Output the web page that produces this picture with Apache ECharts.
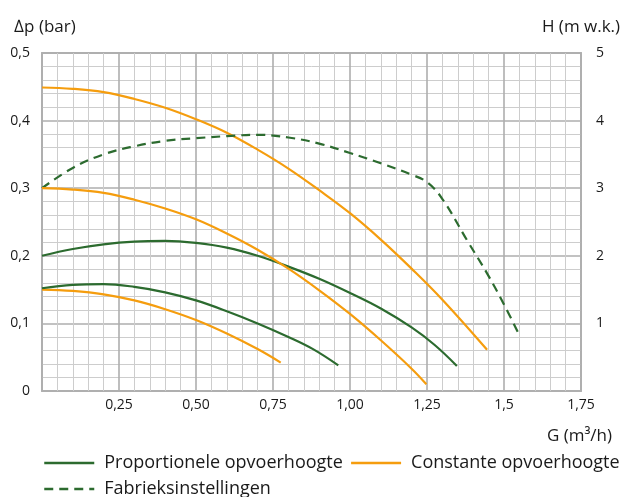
<!DOCTYPE html>
<html>
<head>
<meta charset="utf-8">
<script src="https://cdn.jsdelivr.net/npm/echarts@6/dist/echarts.min.js"></script>
<style>html,body{margin:0;padding:0;background:#fff}#c{width:630px;height:497px}</style>
</head>
<body>
<div id="c"></div>
<script>
// G (m3/h), delta p (bar)
const propHigh = [[0,0.200],[0.1,0.210],[0.2,0.217],[0.3,0.221],[0.4,0.222],[0.5,0.219],[0.6,0.212],[0.7,0.200],[0.8,0.184],[0.9,0.166],[1.0,0.145],[1.1,0.122],[1.2,0.094],[1.275,0.068],[1.347,0.037]];
const propLow = [[0,0.152],[0.1,0.157],[0.2,0.158],[0.3,0.154],[0.4,0.146],[0.5,0.134],[0.6,0.118],[0.7,0.100],[0.8,0.080],[0.88,0.062],[0.962,0.038]];
const constHigh = [[0,0.449],[0.1,0.447],[0.2,0.442],[0.3,0.432],[0.4,0.419],[0.5,0.402],[0.6,0.382],[0.7,0.357],[0.8,0.329],[0.9,0.297],[1.0,0.263],[1.1,0.224],[1.2,0.181],[1.3,0.135],[1.445,0.061]];
const constMid = [[0,0.300],[0.1,0.298],[0.2,0.293],[0.3,0.283],[0.4,0.270],[0.5,0.254],[0.6,0.233],[0.7,0.209],[0.8,0.181],[0.9,0.149],[1.0,0.114],[1.1,0.075],[1.2,0.033],[1.248,0.010]];
const constLow = [[0,0.150],[0.1,0.148],[0.2,0.143],[0.3,0.134],[0.4,0.121],[0.5,0.105],[0.6,0.085],[0.7,0.062],[0.775,0.042]];
const factory = [[0,0.300],[0.1,0.330],[0.2,0.350],[0.3,0.362],[0.4,0.370],[0.5,0.374],[0.6,0.377],[0.7,0.379],[0.8,0.375],[0.9,0.366],[1.0,0.352],[1.1,0.337],[1.2,0.320],[1.25,0.309],[1.3,0.284],[1.38,0.223],[1.445,0.174],[1.5,0.128],[1.545,0.087]];

const xTickLabels = ['', '0,25', '0,50', '0,75', '1,00', '1,25', '1,5', '1,75'];
const yTickLabels = ['0', '0,1', '0,2', '0,3', '0,4', '0,5'];
const hTickLabels = ['', '1', '2', '3', '4', '5'];

const names = ['Proportionele opvoerhoogte', 'Constante opvoerhoogte', 'Fabrieksinstellingen'];
const GREEN = '#2c6b2f', ORANGE = '#f59d0e';
const FONT = 'Open Sans';

function line(name, data, color, dashed) {
  return {
    type: 'line', name: name, data: data, smooth: 0.4, symbol: 'none', showSymbol: false,
    xAxisIndex: 0, yAxisIndex: 0, silent: true,
    lineStyle: { color: color, width: 2.2, type: dashed ? [9, 6] : 'solid' },
    itemStyle: { color: color }
  };
}

const legendCommon = {
  orient: 'horizontal', itemWidth: 50, itemHeight: 14, selectedMode: false,
  itemStyle: { opacity: 0 },
  lineStyle: { width: 2.5 },
  textStyle: { fontSize: 18, fontFamily: FONT, color: '#1a1a1a', padding: [0, 0, 0, 5] }
};

const chart = echarts.init(document.getElementById('c'), null, { renderer: 'canvas' });
chart.setOption({
  animation: false,
  textStyle: { fontFamily: FONT, color: '#1a1a1a' },
  grid: { left: 42, right: 49, top: 53, bottom: 106, show: true, borderColor: '#b4b4b4', borderWidth: 2, backgroundColor: 'transparent' },
  xAxis: {
    type: 'value', min: 0, max: 1.75, interval: 0.25,
    name: 'G (m³/h)', nameLocation: 'end', nameGap: 31,
    nameTextStyle: { fontSize: 17, fontFamily: FONT, color: '#1a1a1a', align: 'right', verticalAlign: 'top', padding: [37, 0, 0, 0] },
    axisLine: { show: false }, axisTick: { show: false },
    axisLabel: { fontSize: 14, fontFamily: FONT, color: '#1a1a1a', margin: 7,
      formatter: function (v) { return xTickLabels[Math.round(v / 0.25)]; } },
    splitLine: { show: true, lineStyle: { color: '#aeaeae', width: 1.6 } },
    minorTick: { show: false, splitNumber: 5 },
    minorSplitLine: { show: true, lineStyle: { color: '#cdcdcd', width: 1 } }
  },
  yAxis: [{
    type: 'value', min: 0, max: 0.5, interval: 0.1,
    name: '∆p (bar)', nameLocation: 'end', nameGap: 26,
    nameTextStyle: { fontSize: 17, fontFamily: FONT, color: '#1a1a1a', align: 'center', verticalAlign: 'middle', padding: [0, 0, 0, 6] },
    axisLine: { show: false }, axisTick: { show: false },
    axisLabel: { fontSize: 14, fontFamily: FONT, color: '#1a1a1a', margin: 12,
      formatter: function (v) { return yTickLabels[Math.round(v / 0.1)]; } },
    splitLine: { show: true, lineStyle: { color: '#aeaeae', width: 1.6 } },
    minorTick: { show: false, splitNumber: 5 },
    minorSplitLine: { show: true, lineStyle: { color: '#cdcdcd', width: 1 } }
  }, {
    type: 'value', min: 0, max: 5, interval: 1, position: 'right',
    name: 'H (m w.k.)', nameLocation: 'end', nameGap: 26,
    nameTextStyle: { fontSize: 17, fontFamily: FONT, color: '#1a1a1a', align: 'center', verticalAlign: 'middle' },
    axisLine: { show: false }, axisTick: { show: false },
    axisLabel: { fontSize: 14, fontFamily: FONT, color: '#1a1a1a', margin: 15,
      formatter: function (v) { return hTickLabels[Math.round(v)]; } },
    splitLine: { show: false }
  }],
  legend: [
    Object.assign({ data: [names[0], names[1]], left: 38, top: 449, itemGap: 7 }, legendCommon),
    Object.assign({ data: [names[2]], left: 38, top: 475 }, legendCommon)
  ],
  series: [
    line(names[0], propHigh, GREEN, false),
    line(names[1], constHigh, ORANGE, false),
    line(names[2], factory, GREEN, true),
    line(names[1], constMid, ORANGE, false),
    line(names[1], constLow, ORANGE, false),
    line(names[0], propLow, GREEN, false)
  ]
});
</script>
</body>
</html>
